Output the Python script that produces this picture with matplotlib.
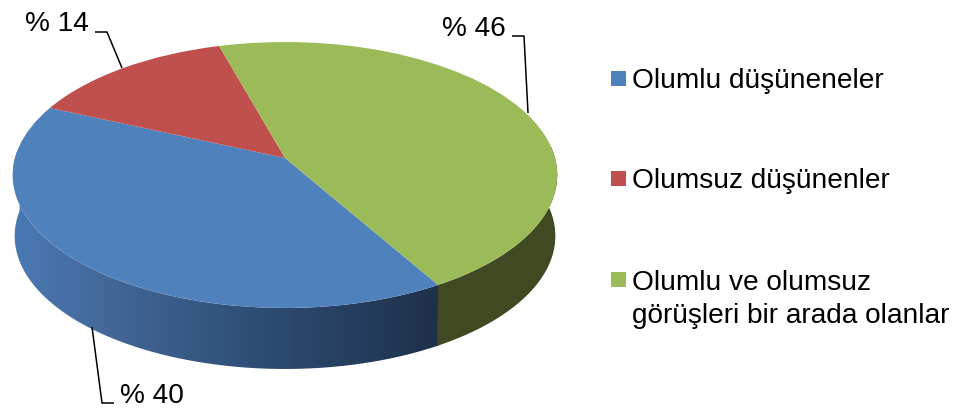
import numpy as np
import matplotlib
matplotlib.use("Agg")
import matplotlib.pyplot as plt
from matplotlib.colors import LinearSegmentedColormap
from matplotlib.patches import Rectangle, Polygon
from matplotlib.transforms import Transform

plt.rcParams['font.family'] = ['Liberation Sans', 'DejaVu Sans']

# data
categories = ["Olumlu düşüneneler", "Olumsuz düşünenler", "Olumlu ve olumsuz\ngörüşleri bir arada olanlar"]
shares = [40, 14, 46]
colors = ["#4F81BD", "#C0504D", "#9BBB59"]

# the tilted disc in pixel coordinates
APEX_X, APEX_Y = 285, 158
RX, RY, TILT = 270, 130.8, 0.1278
DEPTH = 61


def project(xy):
    # unit circle -> tilted pie top with perspective
    u, v = xy[:, 0], xy[:, 1]
    w = 1 + TILT * v
    return np.column_stack([APEX_X + RX * u / w, APEX_Y - RY * v / w])


class PieTilt(Transform):
    input_dims = 2
    output_dims = 2

    def transform_non_affine(self, values):
        return project(np.asarray(values))


def wall_polygon(t1, t2):
    t = np.radians(np.linspace(t1, t2, 200))
    rim = project(np.column_stack([np.cos(t), np.sin(t)]))
    # bottom edge is the rim moved down, a bit narrower
    low = rim.copy()
    low[:, 0] = APEX_X + (low[:, 0] - APEX_X) * 0.993
    low[:, 1] += DEPTH
    return np.vstack([rim, low[::-1]])


fig = plt.figure(figsize=(9.61, 4.12), dpi=100)
ax = fig.add_axes([0, 0, 1, 1])

wedges, _ = ax.pie(shares, colors=colors, startangle=300.3, counterclock=False)
ax.set_aspect('auto')
ax.set_xlim(0, 961)
ax.set_ylim(412, 0)
ax.axis('off')

for w in wedges:
    w.set_transform(PieTilt() + ax.transData)
    w.set_zorder(3)
    w.set_linewidth(0)

# side walls
blue, green = wedges[0], wedges[2]
wall_cmap = LinearSegmentedColormap.from_list(
    "wall", [(0, "#4A7AB5"), (0.2, "#44699A"), (0.55, "#2F4F77"), (1, "#1D3049")])
grad = ax.imshow(np.linspace(0, 1, 256).reshape(1, -1), cmap=wall_cmap, aspect='auto',
                 extent=(12, 442, 412, 0), zorder=1)
blue_wall = Polygon(wall_polygon(blue.theta1 + 20, blue.theta2 + 0.6), closed=True,
                    transform=ax.transData, facecolor='none', edgecolor='none')
ax.add_patch(blue_wall)
grad.set_clip_path(blue_wall)
ax.add_patch(Polygon(wall_polygon(green.theta1, green.theta1 + 65), closed=True,
                     facecolor="#3F4A22", edgecolor='none', zorder=2))
ax.set_xlim(0, 961)
ax.set_ylim(412, 0)

# leader lines and value labels
leaders = [([92, 102, 114], [327, 403, 403]),
           ([122, 107, 95], [68, 32, 32]),
           ([528, 524, 512], [113, 36, 36])]
label_pos = [(120, 403), (25, 31), (442, 36)]
for share, (lx, ly), (tx, ty) in zip(shares, leaders, label_pos):
    ax.plot(lx, ly, color='black', lw=1.1, zorder=4, solid_capstyle='butt')
    ax.text(tx, ty, f"% {share}", fontsize=20.2, color='black', va='baseline', ha='left')

# legend
legend_y = [71, 171, 272]
for label, color, y in zip(categories, colors, legend_y):
    ax.add_patch(Rectangle((611, y), 15, 15, facecolor=color, edgecolor='none'))
    # multi line text sits on its last baseline
    ax.text(632, y + 17 + 34 * label.count("\n"), label, fontsize=20.2, color='black',
            va='baseline', ha='left', linespacing=1.35)

fig.savefig("out.png", dpi=100)
